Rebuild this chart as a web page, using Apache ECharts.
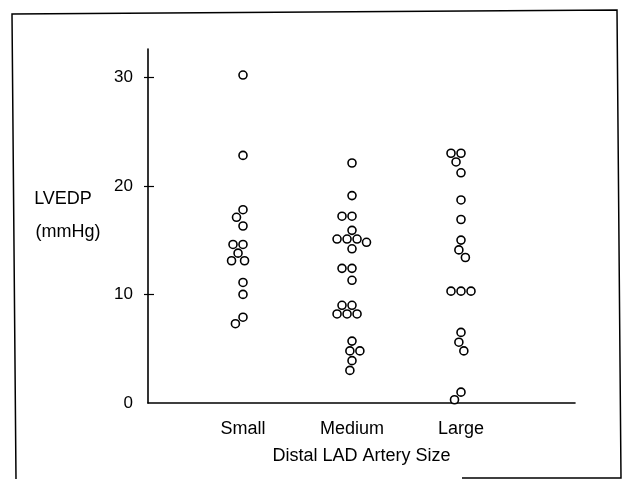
<!DOCTYPE html>
<html>
<head>
<meta charset="utf-8">
<title>LVEDP vs distal LAD artery size</title>
<script src="https://cdn.jsdelivr.net/npm/echarts@6/dist/echarts.min.js"></script>
<style>
  html, body { margin: 0; padding: 0; background: #fff; }
  #chart { width: 623px; height: 479px; }
</style>
</head>
<body>
<div id="chart"></div>
<script>
// LVEDP (mmHg) per distal LAD artery size
const categories = ["Small", "Medium", "Large"];
const smallValues = [30.2, 22.8, 17.8, 17.1, 16.3, 14.6, 14.6, 13.8, 13.1, 13.1, 11.1, 10.0, 7.9, 7.3];
const mediumValues = [22.1, 19.1, 17.2, 17.2, 15.9, 15.1, 15.1, 15.1, 14.8, 14.2, 12.4, 12.4, 11.3,
  9.0, 9.0, 8.2, 8.2, 8.2, 5.7, 4.8, 4.8, 3.9, 3.0];
const largeValues = [23.0, 23.0, 22.2, 21.2, 18.7, 16.9, 15.0, 14.1, 13.4, 10.3, 10.3, 10.3,
  6.5, 5.6, 4.8, 1.0, 0.3];
const yLabels = [0, 10, 20, 30];
const yTickMarks = [10, 20, 30];
const yMax = 32.6;

const ink = "#000";
const font = "Liberation Sans";

const points = []
  .concat(smallValues.map(v => [categories[0], v]))
  .concat(mediumValues.map(v => [categories[1], v]))
  .concat(largeValues.map(v => [categories[2], v]));

const chart = echarts.init(document.getElementById("chart"), null, { renderer: "canvas" });

chart.setOption({
  backgroundColor: "#fff",
  animation: false,
  grid: [
    // grid 0: where the points sit (band centres under the ticks)
    { left: 188.5, right: 107.5, top: 49, bottom: 76 },
    // grid 1: the long axis lines
    { left: 148, right: 48, top: 49, bottom: 76 }
  ],
  xAxis: [
    {
      gridIndex: 0,
      type: "category",
      data: categories,
      jitter: 60,
      jitterOverlap: false,
      jitterMargin: 2,
      axisLine: { show: false },
      axisTick: { alignWithLabel: true, length: 8, lineStyle: { color: ink, width: 1.5 } },
      axisLabel: { margin: 17, color: ink, fontSize: 18, fontFamily: font },
      splitLine: { show: false }
    },
    {
      gridIndex: 0,
      type: "category",
      data: categories,
      position: "bottom",
      axisLine: { show: false },
      axisTick: { alignWithLabel: true, inside: true, length: 6, lineStyle: { color: ink, width: 1.5 } },
      axisLabel: { show: false },
      splitLine: { show: false }
    },
    {
      gridIndex: 1,
      type: "value",
      min: 0,
      max: 1,
      axisLine: { show: true, lineStyle: { color: ink, width: 1.6 } },
      axisTick: { show: false },
      axisLabel: { show: false },
      splitLine: { show: false },
      name: "Distal LAD Artery Size",
      nameLocation: "middle",
      nameGap: 44,
      nameTextStyle: { color: ink, fontSize: 18, fontFamily: font }
    }
  ],
  yAxis: [
    { gridIndex: 0, type: "value", min: 0, max: yMax, show: false },
    {
      gridIndex: 1,
      type: "value",
      min: 0,
      max: yMax,
      axisLine: { show: true, lineStyle: { color: ink, width: 1.6 } },
      axisTick: { show: true, inside: true, length: 6, customValues: yTickMarks, lineStyle: { color: ink, width: 1.2 } },
      axisLabel: { customValues: yLabels, margin: 15, color: ink, fontSize: 17, fontFamily: font },
      splitLine: { show: false }
    },
    {
      gridIndex: 1,
      type: "value",
      min: 0,
      max: yMax,
      position: "left",
      axisLine: { show: false },
      axisTick: { show: true, length: 4, customValues: yTickMarks, lineStyle: { color: ink, width: 1.2 } },
      axisLabel: { show: false },
      splitLine: { show: false }
    }
  ],
  graphic: [
    {
      type: "text",
      x: 63,
      y: 199,
      style: { text: "LVEDP", fill: ink, font: "18px " + font, align: "center", verticalAlign: "middle" }
    },
    {
      type: "text",
      x: 68,
      y: 232,
      style: { text: "(mmHg)", fill: ink, font: "18px " + font, align: "center", verticalAlign: "middle" }
    },
    // scanned frame round the figure
    {
      type: "polyline",
      shape: { points: [[16, 479], [12, 14], [617, 10], [621, 478], [462, 478]] },
      style: { stroke: ink, lineWidth: 1.5, fill: null }
    }
  ],
  series: [
    {
      type: "scatter",
      xAxisIndex: 0,
      yAxisIndex: 0,
      data: points,
      symbol: "circle",
      symbolSize: 8,
      itemStyle: { color: "#fff", borderColor: ink, borderWidth: 1.6, opacity: 1 },
      emphasis: { disabled: true }
    }
  ]
});
</script>
</body>
</html>
